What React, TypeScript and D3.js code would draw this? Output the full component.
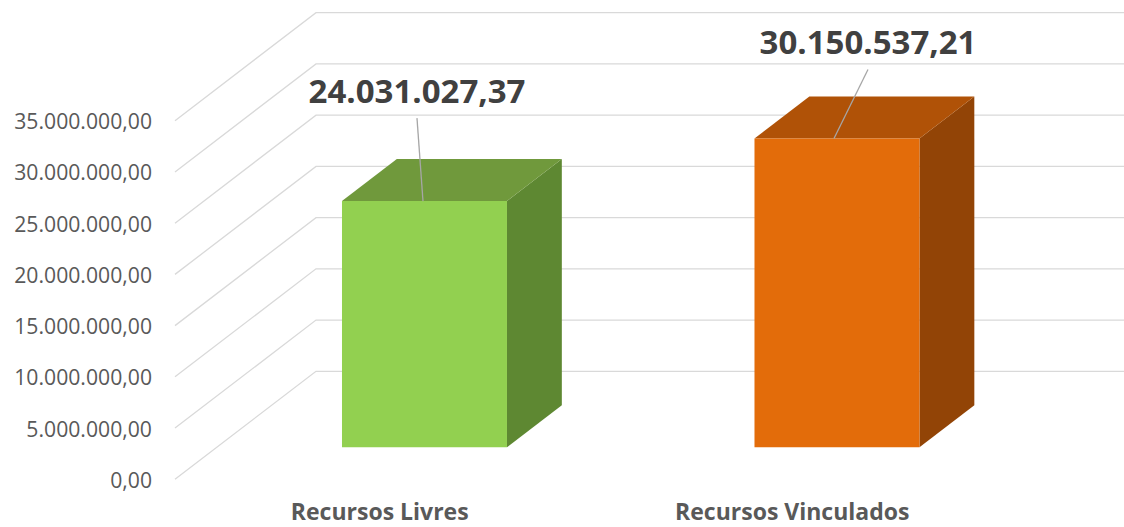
import React from "react";
import * as d3 from "d3";

const categories = ["Recursos Livres", "Recursos Vinculados"];
const values = [24031027.37, 30150537.21];
const valueLabels = ["24.031.027,37", "30.150.537,21"];
const yTicks = [0, 5000000, 10000000, 15000000, 20000000, 25000000, 30000000, 35000000];

const W = 1124;
const H = 527;
const DX = 141; // oblique depth offset (x)
const DY = 108; // oblique depth offset (y)
const D1 = 0.296; // bar front depth fraction
const D2 = 0.685; // bar back depth fraction
const BAR_W = 165;

const colors = [
  { front: "#92D050", top: "#70993C", side: "#5E8832" },
  { front: "#E36C0A", top: "#B05207", side: "#924406" },
];
// manual label placement (relative to bar's top-front centre)
const labelOffsets = [
  [-7.5, -98],
  [31, -84],
];

const fmtTick = (v: number) => {
  const s = Math.round(v).toString().replace(/\B(?=(\d{3})+(?!\d))/g, ".");
  return s + ",00";
};

export default function App() {
  const y = d3.scaleLinear().domain([0, 35000000]).range([479.3, 120.7]);
  const x = d3.scalePoint<string>().domain(categories).range([173.5, 998.5]).padding(0.5);

  const P = (xf: number, v: number, d: number) => [xf + d * DX, y(v) - d * DY];
  const pts = (arr: number[][]) => arr.map((p) => p.join(",")).join(" ");

  return (
    <svg width={W} height={H} style={{ position: "absolute", left: 0, top: 0, background: "#fff" }}>
      {/* gridlines */}
      {yTicks.map((t) => {
        const [x1, y1] = P(175, t, 0);
        const [x2, y2] = P(175, t, 1);
        return (
          <g key={t}>
            <polyline
              points={pts([[x1, y1], [x2, y2], [W, y2]])}
              fill="none"
              stroke="#D9D9D9"
              strokeWidth={1.3}
            />
            <text
              x={152}
              y={y1}
              textAnchor="end"
              dominantBaseline="central"
              fontFamily="'Open Sans', sans-serif"
              fontSize={21.2}
              fill="#595959"
            >
              {fmtTick(t)}
            </text>
          </g>
        );
      })}
      {/* bars */}
      {categories.map((c, i) => {
        const cx = x(c)!;
        const l = cx - BAR_W / 2 + 3;
        const r = cx + BAR_W / 2 + 3;
        const v = values[i];
        const fBL = P(l, 0, D1), fBR = P(r, 0, D1), fTL = P(l, v, D1), fTR = P(r, v, D1);
        const bTL = P(l, v, D2), bTR = P(r, v, D2), bBR = P(r, 0, D2);
        const col = colors[i];
        const topMid = P(cx + 3, v, D1);
        const [ox, oy] = labelOffsets[i];
        const lx = topMid[0] + ox;
        const ly = topMid[1] + oy;
        return (
          <g key={c}>
            <polygon points={pts([fTR, bTR, bBR, fBR])} fill={col.side} />
            <polygon points={pts([fTL, bTL, bTR, fTR])} fill={col.top} />
            <polygon points={pts([fBL, fTL, fTR, fBR])} fill={col.front} />
            <line
              x1={lx}
              y1={ly + 15}
              x2={topMid[0] - (i === 0 ? 1.5 : 3)}
              y2={topMid[1]}
              stroke="#A6A6A6"
              strokeWidth={1.3}
            />
            <text
              x={lx}
              y={ly}
              textAnchor="middle"
              fontFamily="'Open Sans', sans-serif"
              fontWeight="bold"
              fontSize={33}
              fill="#404040"
            >
              {valueLabels[i]}
            </text>
            <text
              x={cx}
              y={520}
              textAnchor="middle"
              fontFamily="'Open Sans', sans-serif"
              fontWeight="bold"
              fontSize={23}
              fill="#595959"
            >
              {c}
            </text>
          </g>
        );
      })}
    </svg>
  );
}
